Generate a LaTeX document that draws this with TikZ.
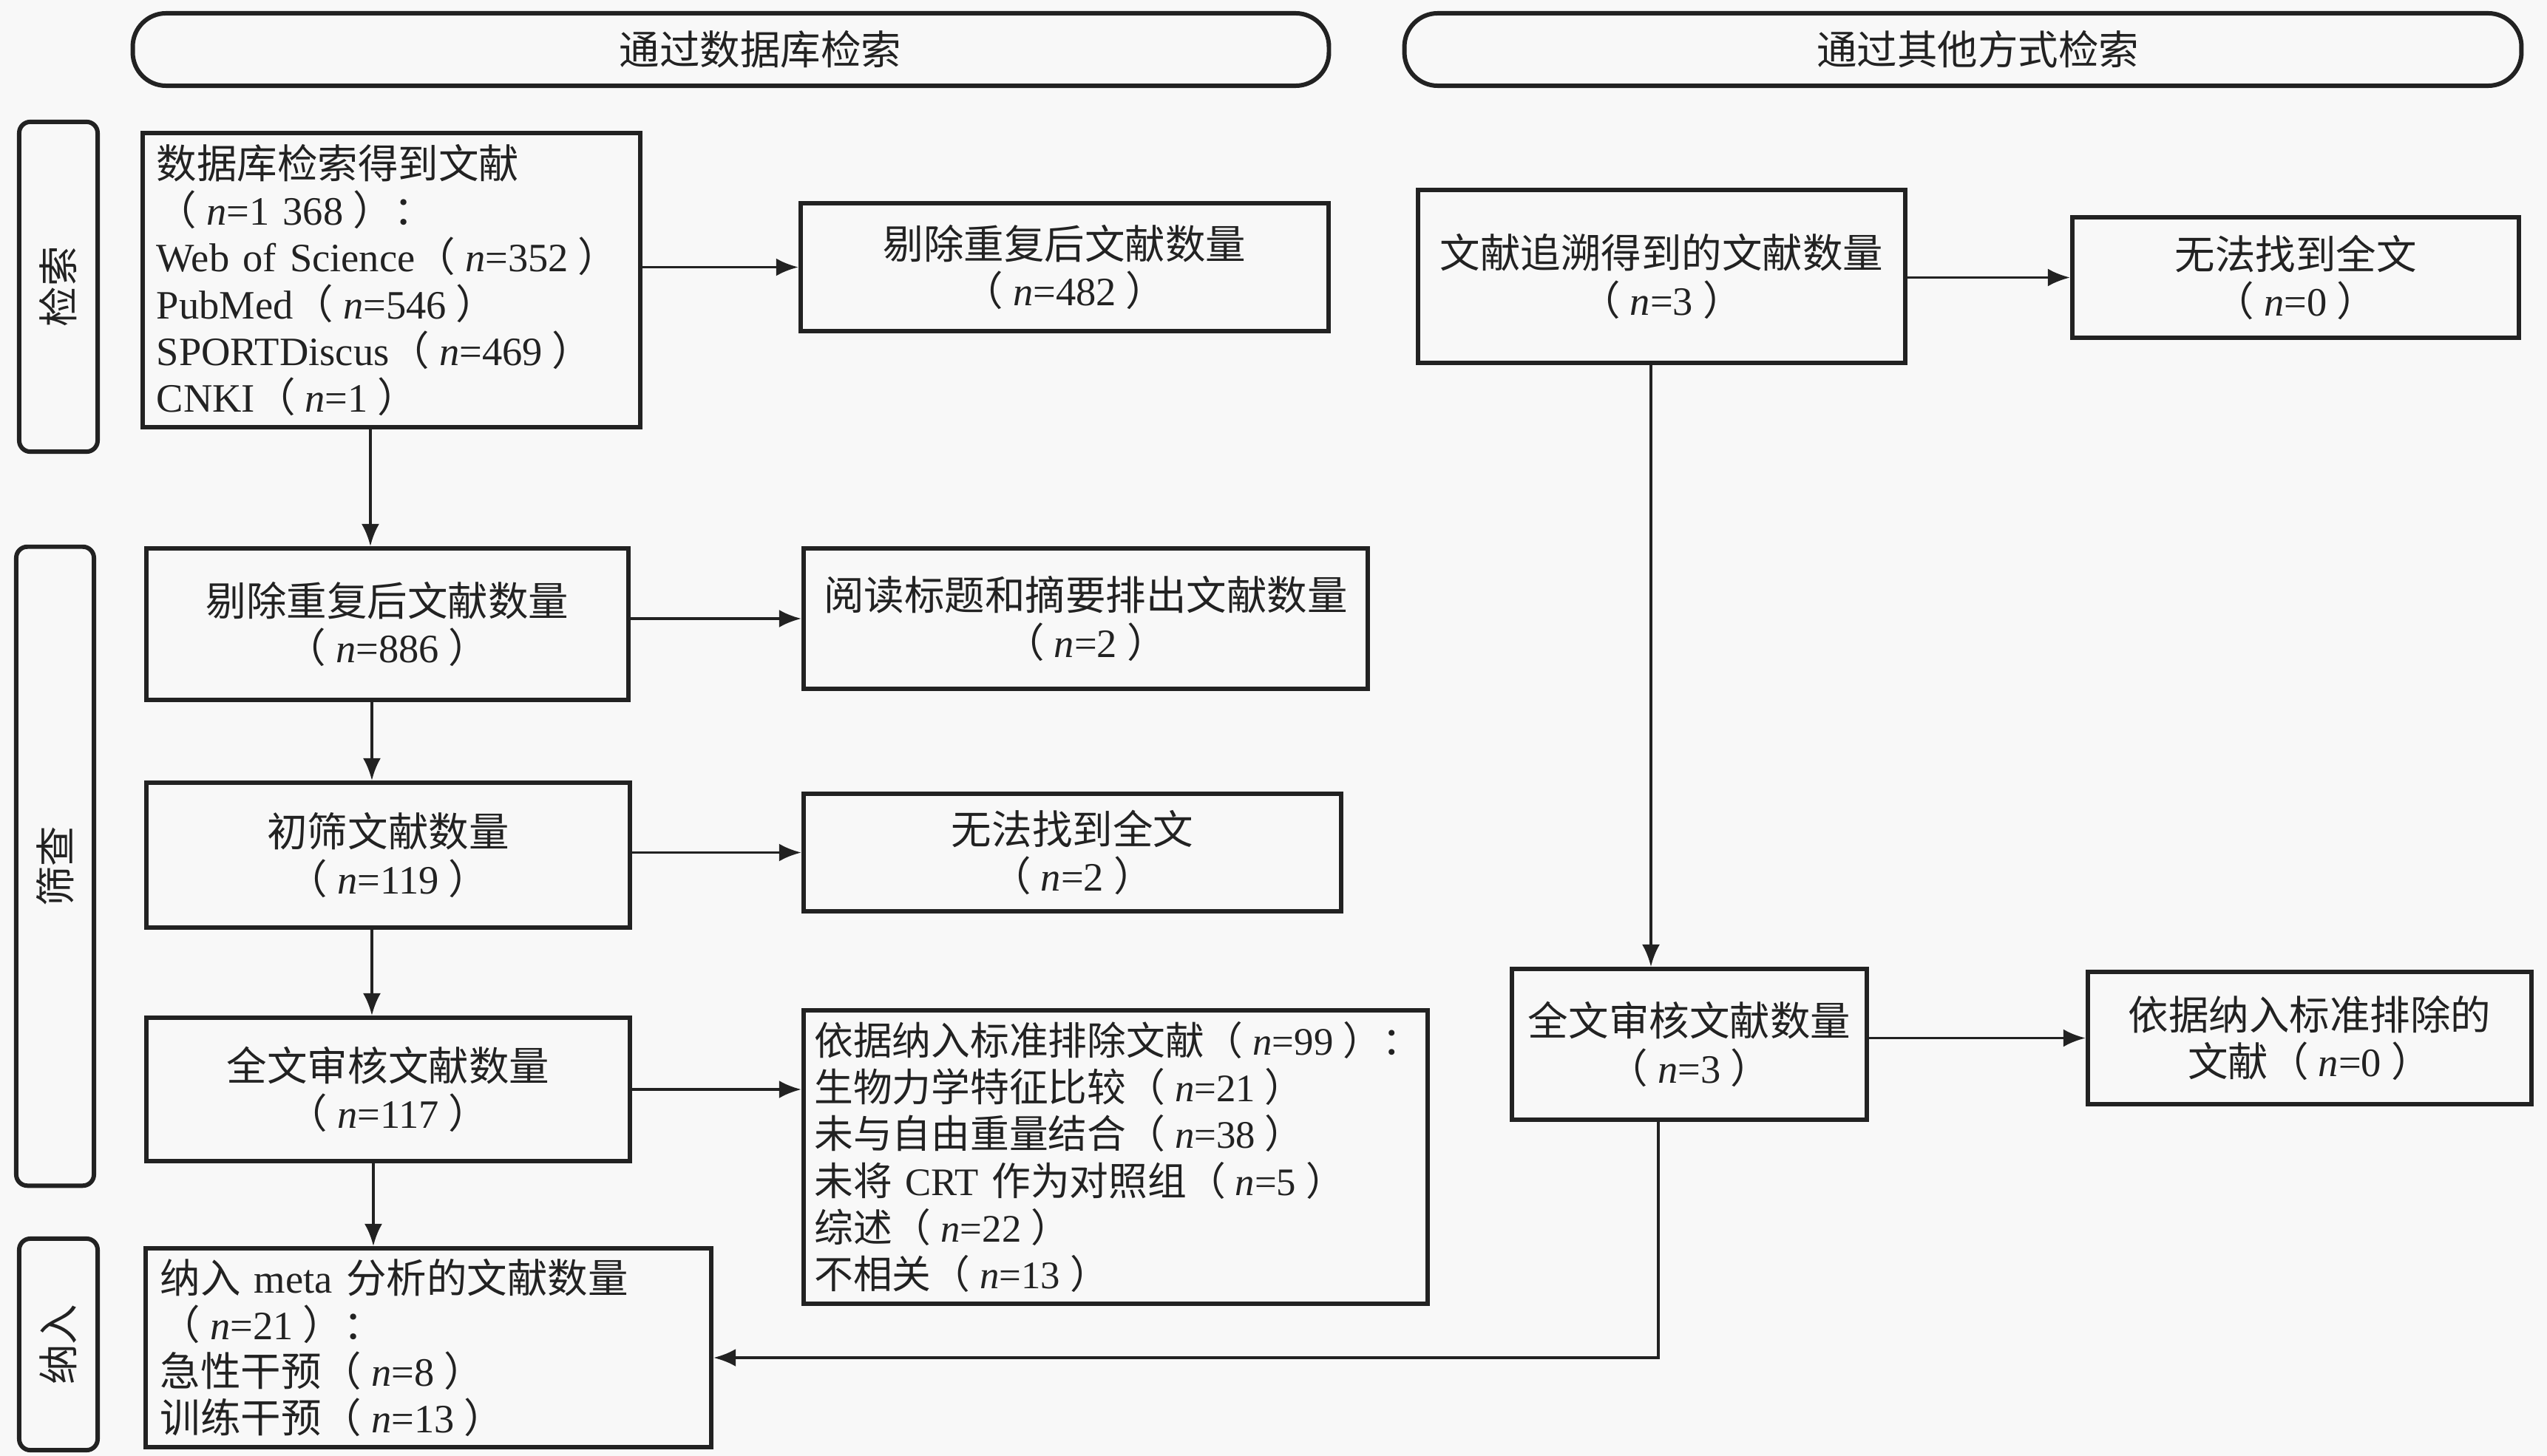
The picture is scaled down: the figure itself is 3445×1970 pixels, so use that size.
\documentclass[tikz,border=0pt]{standalone}
\usepackage{fontspec}
\setmainfont{Liberation Serif}
\newfontfamily\cjk{Noto Sans CJK SC}
\usetikzlibrary{arrows.meta}
\definecolor{bg}{HTML}{F8F8F8}
\definecolor{ink}{HTML}{222222}
\newcommand\zh[1]{{\cjk #1}}
\newcommand\nval[1]{\mbox{\zh{（}\kern0.13cm\textit{n}=#1\kern0.13cm\zh{）}}}
\begin{document}
\begin{tikzpicture}[x=0.01cm,y=-0.01cm,
 every node/.style={text=ink, font=\fontsize{15.5}{18}\selectfont},
 box/.style={draw=ink, line width=1.7pt, fill=bg, inner sep=0pt, align=center},
 lbox/.style={box, align=left},
 banner/.style={draw=ink, line width=1.7pt, fill=bg, rounded corners=0.45cm, inner sep=0pt},
 side/.style={draw=ink, line width=1.7pt, fill=bg, rounded corners=0.15cm, inner sep=0pt},
 arr/.style={draw=ink, line width=1.1pt, -{Latex[length=0.3cm,width=0.24cm]}}]
\useasboundingbox[fill=bg] (0,0) rectangle (3445,1970);

% banners
\node[banner, minimum width=16.17cm, minimum height=0.98cm] (banL) at (988.5,67) {\hspace*{0.8cm}\zh{通过数据库检索}};
\node[banner, minimum width=15.1cm, minimum height=0.98cm] (banR) at (2655,67) {\hspace*{0.4cm}\zh{通过其他方式检索}};

% side labels
\node[side, minimum width=1.06cm, minimum height=4.46cm] (s1) at (79,388) {\rotatebox{90}{\zh{检索}}};
\node[side, minimum width=1.05cm, minimum height=8.64cm] (s2) at (74.5,1172) {\rotatebox{90}{\zh{筛查}}};
\node[side, minimum width=1.06cm, minimum height=2.86cm] (s3) at (79,1819) {\rotatebox{90}{\zh{纳入}}};

% left column
\node[lbox, text width=6.35cm, inner xsep=0.19cm, minimum height=3.98cm] (A) at (529.5,379)
 {\zh{数据库检索得到文献}\\
  \mbox{\zh{（}\kern0.13cm\textit{n}=1 368\kern0.13cm\zh{）：}}\\
  \mbox{Web of Science}\nval{352}\\
  PubMed\nval{546}\\
  SPORTDiscus\nval{469}\\
  CNKI\nval{1}};
\node[box, minimum width=7.14cm, minimum height=1.73cm] (B) at (1440,361.5) {\zh{剔除重复后文献数量}\\\nval{482}};
\node[box, minimum width=6.52cm, minimum height=2.05cm] (C) at (524,844.5) {\zh{剔除重复后文献数量}\\\nval{886}};
\node[box, minimum width=7.63cm, minimum height=1.90cm] (D) at (1468.5,837) {\zh{阅读标题和摘要排出文献数量}\\\nval{2}};
\node[box, minimum width=6.54cm, minimum height=1.96cm] (E) at (525,1157) {\zh{初筛文献数量}\\\nval{119}};
\node[box, minimum width=7.27cm, minimum height=1.59cm] (F) at (1450.5,1153.5) {\zh{无法找到全文}\\\nval{2}};
\node[box, minimum width=6.54cm, minimum height=1.94cm] (G) at (525,1474) {\zh{全文审核文献数量}\\\nval{117}};
\node[lbox, text width=8.15cm, inner xsep=0.145cm, minimum height=3.97cm, font=\fontsize{15}{18}\selectfont] (H) at (1509,1565.5)
 {\zh{依据纳入标准排除文献}\nval{99}\zh{：}\\
  \zh{生物力学特征比较}\nval{21}\\
  \zh{未与自由重量结合}\nval{38}\\
  \mbox{\zh{未将} CRT \zh{作为对照组}}\nval{5}\\
  \zh{综述}\nval{22}\\
  \zh{不相关}\nval{13}};
\node[lbox, text width=7.25cm, inner xsep=0.2cm, minimum height=2.69cm] (I) at (579.5,1823.5)
 {\mbox{\zh{纳入} meta \zh{分析的文献数量}}\\
  \nval{21}\zh{：}\\
  \zh{急性干预}\nval{8}\\
  \zh{训练干预}\nval{13}};

% right column
\node[box, minimum width=6.59cm, minimum height=2.34cm] (J) at (2247.5,374) {\zh{文献追溯得到的文献数量}\\\nval{3}};
\node[box, minimum width=6.04cm, minimum height=1.63cm] (K) at (3105,375.5) {\zh{无法找到全文}\\\nval{0}};
\node[box, minimum width=4.80cm, minimum height=2.04cm] (L) at (2285,1413) {\zh{全文审核文献数量}\\\nval{3}};
\node[box, minimum width=6.00cm, minimum height=1.79cm] (M) at (3124,1404.5) {\zh{依据纳入标准排除的}\\\zh{文献}\nval{0}};

% connectors
\draw[arr] (A.east |- B.west) -- (B.west);
\coordinate (a1) at ([xshift=-0.285cm]A.south);
\draw[arr] (a1) -- (a1 |- C.north);
\draw[arr] (C.east |- D.west) -- (D.west);
\coordinate (c1) at ([xshift=-0.21cm]C.south);
\draw[arr] (c1) -- (c1 |- E.north);
\draw[arr] (E.east |- F.west) -- (F.west);
\coordinate (e1) at ([xshift=-0.22cm]E.south);
\draw[arr] (e1) -- (e1 |- G.north);
\draw[arr] (G.east) -- (G.east -| H.west);
\coordinate (g1) at ([xshift=-0.2cm]G.south);
\draw[arr] (g1) -- (g1 |- I.north);
\draw[arr] (J.east |- K.west) -- (K.west);
\coordinate (j1) at ([xshift=-0.145cm]J.south);
\draw[arr] (j1) -- (j1 |- L.north);
\draw[arr] (L.east |- M.west) -- (M.west);
\coordinate (l1) at ([xshift=-0.42cm]L.south);
\coordinate (i1) at ([yshift=-0.135cm]I.east);
\draw[arr] (l1) |- (i1);
\end{tikzpicture}
\end{document}
